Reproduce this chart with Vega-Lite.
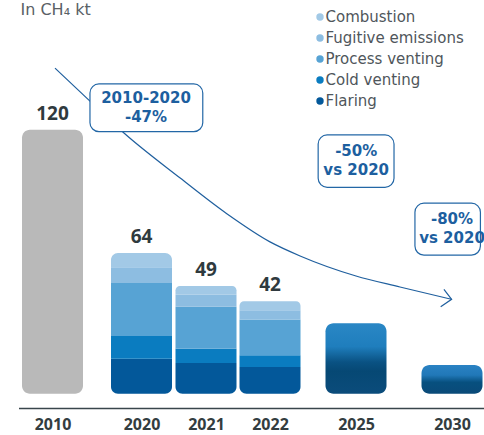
{
  "$schema": "https://vega.github.io/schema/vega-lite/v6.json",
  "width": 484,
  "height": 388,
  "autosize": {"type": "none"},
  "padding": {"left": 0, "top": 20, "right": 0, "bottom": 27},
  "background": "white",
  "config": {"view": {"stroke": null}},
  "datasets": {
    "bars": [
      {"year": 2010, "category": "Total", "rank": 0, "value": 120},
      {"year": 2020, "category": "Flaring", "rank": 1, "value": 15.9},
      {"year": 2020, "category": "Cold venting", "rank": 2, "value": 10.3},
      {"year": 2020, "category": "Process venting", "rank": 3, "value": 24.1},
      {"year": 2020, "category": "Fugitive emissions", "rank": 4, "value": 7.2},
      {"year": 2020, "category": "Combustion", "rank": 5, "value": 6.5},
      {"year": 2021, "category": "Flaring", "rank": 1, "value": 13.9},
      {"year": 2021, "category": "Cold venting", "rank": 2, "value": 6.5},
      {"year": 2021, "category": "Process venting", "rank": 3, "value": 19.1},
      {"year": 2021, "category": "Fugitive emissions", "rank": 4, "value": 5.5},
      {"year": 2021, "category": "Combustion", "rank": 5, "value": 4.0},
      {"year": 2022, "category": "Flaring", "rank": 1, "value": 12.1},
      {"year": 2022, "category": "Cold venting", "rank": 2, "value": 5.4},
      {"year": 2022, "category": "Process venting", "rank": 3, "value": 16.2},
      {"year": 2022, "category": "Fugitive emissions", "rank": 4, "value": 4.2},
      {"year": 2022, "category": "Combustion", "rank": 5, "value": 4.1},
      {"year": 2025, "category": "Target", "rank": 0, "value": 32},
      {"year": 2030, "category": "Target", "rank": 0, "value": 13}
    ],
    "totals": [
      {"year": 2010, "value": 120},
      {"year": 2020, "value": 64},
      {"year": 2021, "value": 49},
      {"year": 2022, "value": 42}
    ],
    "curve": [
      {"year": 2010.28, "value": 148.0},
      {"year": 2014.21, "value": 133.0},
      {"year": 2018.03, "value": 118.5},
      {"year": 2020.6, "value": 98.0},
      {"year": 2021.33, "value": 81.7},
      {"year": 2022.0, "value": 69.0},
      {"year": 2023.05, "value": 62.6},
      {"year": 2025.0, "value": 53.5},
      {"year": 2027.29, "value": 48.5},
      {"year": 2029.98, "value": 42.9}
    ],
    "arrow": [
      {"o": 1, "year": 2029.58, "value": 47.45},
      {"o": 2, "year": 2029.98, "value": 42.9},
      {"o": 3, "year": 2029.41, "value": 39.5}
    ],
    "notes": [
      {"year": 2014.21, "year2": 2020.95, "value": 140.8, "value2": 119.1, "tyear": 2020.07, "tvalue": 134.2, "text": "2010-2020\n-47%"},
      {"year": 2023.68, "year2": 2026.98, "value": 117.6, "value2": 93.8, "tyear": 2025.01, "tvalue": 110.2, "text": "-50%\nvs 2020"},
      {"year": 2028.07, "year2": 2031.49, "value": 86.6, "value2": 63.0, "tyear": 2030.0, "tvalue": 79.3, "text": "-80%\nvs 2020"}
    ]
  },
  "encoding": {
    "x": {"field": "year", "type": "quantitative",
      "scale": {"domain": [2006.1, 2010, 2020, 2021, 2022, 2025, 2030, 2031.4], "range": [18.5, 52.5, 141.5, 206, 270, 356, 452, 484], "nice": false, "zero": false},
      "axis": {"values": [2010, 2020, 2021, 2022, 2025, 2030], "format": "d", "title": null, "ticks": false, "grid": false, "domainColor": "#39464b", "domainWidth": 1.5, "labelFont": "Open Sans", "labelFontSize": 16, "labelFontWeight": "bold", "labelColor": "#333d40", "labelPadding": 8, "labelFlush": false, "labelOverlap": false}},
    "y": {"field": "value", "type": "quantitative",
      "scale": {"domain": [-6.5, 169.86], "nice": false, "zero": false},
      "axis": {"title": "In CH₄ kt", "domain": false, "ticks": false, "labels": false, "grid": false, "titleAngle": 0, "titleX": 20, "titleY": -5.5, "titleAlign": "left", "titleBaseline": "alphabetic", "titleFont": "DejaVu Sans", "titleFontSize": 16, "titleFontWeight": "normal", "titleColor": "#5a6166", "titlePadding": 0}}
  },
  "layer": [
    {
      "data": {"name": "bars"},
      "transform": [{"filter": "datum.year == 2010"}],
      "mark": {"type": "bar", "width": 61, "color": "#b9b9b9", "cornerRadius": 8},
      "encoding": {"y2": {"datum": 0}}
    },
    {
      "data": {"name": "bars"},
      "transform": [
        {"filter": "datum.rank > 0"},
        {"stack": "value", "groupby": ["year"], "sort": [{"field": "rank", "order": "ascending"}], "as": ["v0", "v1"]}
      ],
      "encoding": {
        "y": {"field": "v1", "type": "quantitative",
          "scale": {"domain": [-6.5, 169.86], "nice": false, "zero": false},
          "axis": {"title": "In CH₄ kt", "domain": false, "ticks": false, "labels": false, "grid": false, "titleAngle": 0, "titleX": 20, "titleY": -5.5, "titleAlign": "left", "titleBaseline": "alphabetic", "titleFont": "DejaVu Sans", "titleFontSize": 16, "titleFontWeight": "normal", "titleColor": "#5a6166", "titlePadding": 0}},
        "y2": {"field": "v0"},
        "color": {"field": "category", "type": "nominal",
          "scale": {"domain": ["Combustion", "Fugitive emissions", "Process venting", "Cold venting", "Flaring"], "range": ["#a2c9e6", "#8dbde1", "#57a3d4", "#0a7cc0", "#03589a"]},
          "legend": {"orient": "none", "legendX": 312.5, "legendY": -10.5, "title": null, "padding": 0, "symbolType": "circle", "symbolSize": 55, "symbolStrokeWidth": 0, "labelFont": "DejaVu Sans", "labelFontSize": 15, "labelColor": "#4f565b", "rowPadding": 5, "labelOffset": -2}}
      },
      "layer": [
        {"transform": [{"filter": "datum.category == 'Flaring'"}], "mark": {"type": "bar", "width": 61, "cornerRadiusBottomLeft": 7, "cornerRadiusBottomRight": 7}},
        {"transform": [{"filter": "datum.category == 'Cold venting' || datum.category == 'Process venting' || datum.category == 'Fugitive emissions'"}], "mark": {"type": "bar", "width": 61}},
        {"transform": [{"filter": "datum.category == 'Combustion'"}], "mark": {"type": "bar", "width": 61, "cornerRadiusTopLeft": 7, "cornerRadiusTopRight": 7}}
      ]
    },
    {
      "data": {"name": "bars"},
      "transform": [{"filter": "datum.year == 2025"}],
      "mark": {"type": "bar", "width": 61, "cornerRadius": 8,
        "color": {"gradient": "linear", "x1": 0, "y1": 0, "x2": 0, "y2": 1, "stops": [
          {"offset": 0, "color": "#2a87c5"}, {"offset": 0.33, "color": "#1f7ebd"}, {"offset": 0.55, "color": "#0a5283"}, {"offset": 0.68, "color": "#064874"}, {"offset": 1, "color": "#0b4c7b"}]}},
      "encoding": {"y2": {"datum": 0}}
    },
    {
      "data": {"name": "bars"},
      "transform": [{"filter": "datum.year == 2030"}],
      "mark": {"type": "bar", "width": 61, "cornerRadius": 8,
        "color": {"gradient": "linear", "x1": 0, "y1": 0, "x2": 0, "y2": 1, "stops": [
          {"offset": 0, "color": "#2a82c3"}, {"offset": 0.35, "color": "#2178b8"}, {"offset": 0.6, "color": "#07507f"}, {"offset": 1, "color": "#0a4a78"}]}},
      "encoding": {"y2": {"datum": 0}}
    },
    {
      "data": {"name": "curve"},
      "mark": {"type": "line", "interpolate": "monotone", "color": "#1f5f9e", "strokeWidth": 1.2},
      "encoding": {}
    },
    {
      "data": {"name": "arrow"},
      "mark": {"type": "line", "color": "#1f5f9e", "strokeWidth": 1.2},
      "encoding": {"order": {"field": "o"}}
    },
    {
      "data": {"name": "notes"},
      "mark": {"type": "rect", "fill": "white", "stroke": "#2367a6", "strokeWidth": 1.2, "cornerRadius": 9},
      "encoding": {"x2": {"field": "year2"}, "y2": {"field": "value2"}}
    },
    {
      "data": {"name": "notes"},
      "mark": {"type": "text", "lineBreak": "\n", "lineHeight": 19, "align": "center", "baseline": "middle", "font": "DejaVu Sans", "fontSize": 15, "fontWeight": "bold", "color": "#1d5f9f"},
      "encoding": {
        "x": {"field": "tyear", "type": "quantitative",
          "scale": {"domain": [2006.1, 2010, 2020, 2021, 2022, 2025, 2030, 2031.4], "range": [18.5, 52.5, 141.5, 206, 270, 356, 452, 484], "nice": false, "zero": false},
          "axis": {"values": [2010, 2020, 2021, 2022, 2025, 2030], "format": "d", "title": null, "ticks": false, "grid": false, "domainColor": "#39464b", "domainWidth": 1.5, "labelFont": "Open Sans", "labelFontSize": 16, "labelFontWeight": "bold", "labelColor": "#333d40", "labelPadding": 8, "labelFlush": false, "labelOverlap": false}},
        "y": {"field": "tvalue", "type": "quantitative",
          "scale": {"domain": [-6.5, 169.86], "nice": false, "zero": false},
          "axis": {"title": "In CH₄ kt", "domain": false, "ticks": false, "labels": false, "grid": false, "titleAngle": 0, "titleX": 20, "titleY": -5.5, "titleAlign": "left", "titleBaseline": "alphabetic", "titleFont": "DejaVu Sans", "titleFontSize": 16, "titleFontWeight": "normal", "titleColor": "#5a6166", "titlePadding": 0}},
        "text": {"field": "text"}
      }
    },
    {
      "data": {"name": "totals"},
      "mark": {"type": "text", "align": "center", "baseline": "alphabetic", "dy": -10, "font": "Open Sans", "fontSize": 19, "fontWeight": "bold", "color": "#2f3a3e"},
      "encoding": {"text": {"field": "value", "type": "quantitative", "format": "d"}}
    }
  ]
}
